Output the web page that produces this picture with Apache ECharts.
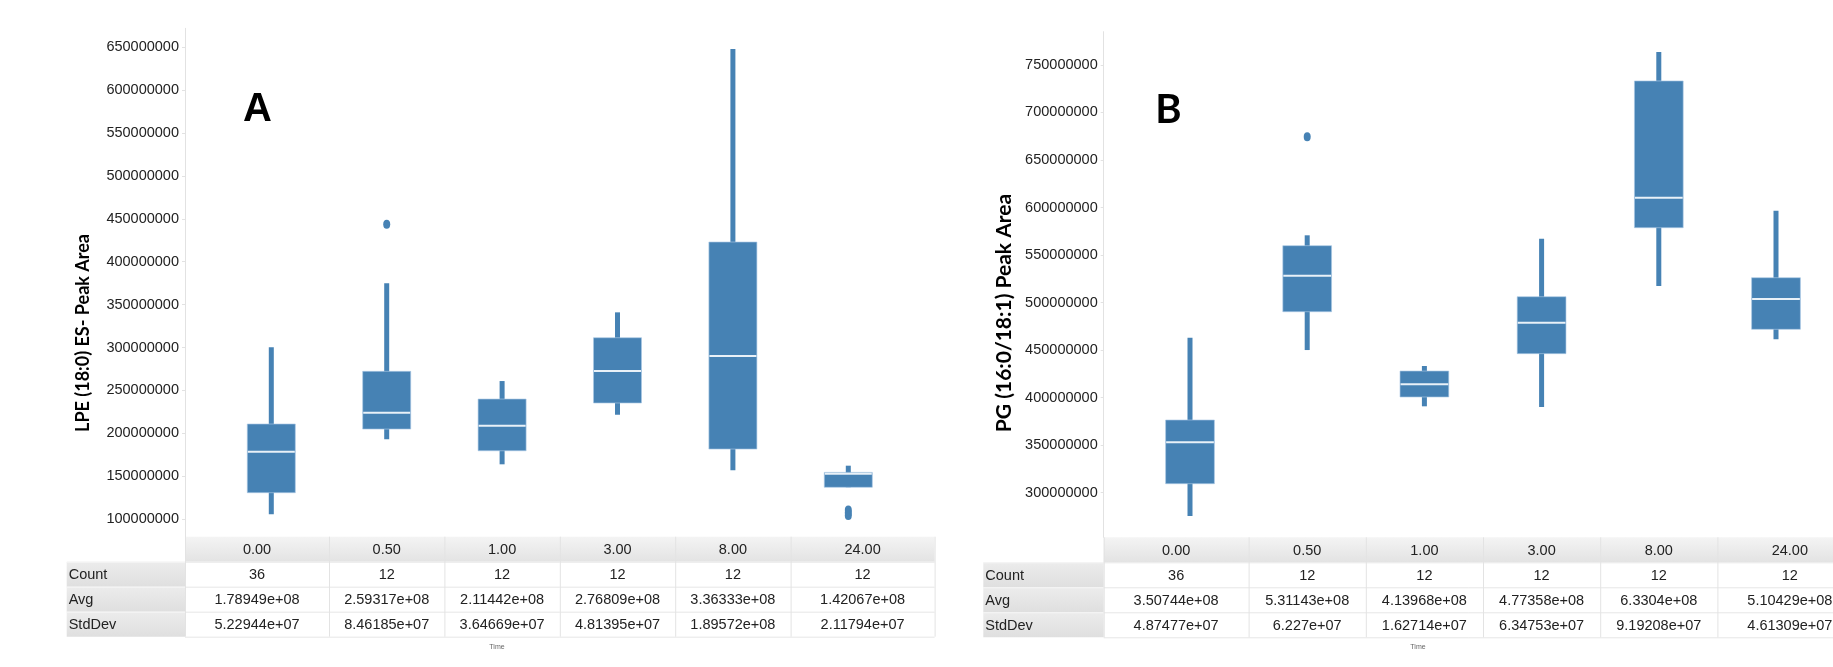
<!DOCTYPE html>
<html>
<head>
<meta charset="utf-8">
<script src="https://cdn.jsdelivr.net/npm/echarts@6/dist/echarts.min.js"></script>
<style>
  html, body { margin: 0; padding: 0; background: #ffffff; }
  #chart { width: 1833px; height: 667px; }
</style>
</head>
<body>
<div id="chart"></div>
<script>
// ---- Data -------------------------------------------------------------
const times = ['0.00', '0.50', '1.00', '3.00', '8.00', '24.00'];

// Panel A: LPE (18:0) ES- peak area, box summary per time point
const lowA  = [105.5e6, 192.9e6, 163.8e6, 221.6e6, 156.8e6, 137.0e6];
const q1A   = [130.7e6, 204.9e6, 179.6e6, 235.3e6, 181.6e6, 137.0e6];
const medA  = [178.5e6, 224.0e6, 208.8e6, 272.6e6, 290.0e6, 152.8e6];
const q3A   = [210.8e6, 272.2e6, 239.9e6, 311.4e6, 423.0e6, 154.4e6];
const highA = [300.2e6, 374.8e6, 260.9e6, 341.0e6, 648.0e6, 162.2e6];
const outlierTimeA  = ['0.50', '24.00', '24.00', '24.00'];
const outlierValueA = [443.6e6, 110.5e6, 107.2e6, 104.1e6];
const countA = [36, 12, 12, 12, 12, 12];
const avgA   = [1.78949e8, 2.59317e8, 2.11442e8, 2.76809e8, 3.36333e8, 1.42067e8];
const sdA    = [5.22944e7, 8.46185e7, 3.64669e7, 4.81395e7, 1.89572e8, 2.11794e7];
const ticksA = [100000000, 150000000, 200000000, 250000000, 300000000, 350000000,
                400000000, 450000000, 500000000, 550000000, 600000000, 650000000];

// Panel B: PG (16:0/18:1) peak area
const lowB  = [275.5e6, 450.1e6, 390.9e6, 390.2e6, 517.5e6, 461.4e6];
const q1B   = [309.5e6, 490.4e6, 400.7e6, 446.3e6, 578.8e6, 471.9e6];
const medB  = [353.0e6, 528.3e6, 414.0e6, 478.9e6, 610.4e6, 503.8e6];
const q3B   = [376.5e6, 559.9e6, 428.0e6, 506.2e6, 733.2e6, 526.2e6];
const highB = [463.1e6, 570.8e6, 433.3e6, 567.3e6, 763.7e6, 596.7e6];
const outlierTimeB  = ['0.50'];
const outlierValueB = [674.6e6];
const countB = [36, 12, 12, 12, 12, 12];
const avgB   = [3.50744e8, 5.31143e8, 4.13968e8, 4.77358e8, 6.3304e8, 5.10429e8];
const sdB    = [4.87477e7, 6.227e7, 1.62714e7, 6.34753e7, 9.19208e7, 4.61309e7];
const ticksB = [300000000, 350000000, 400000000, 450000000, 500000000, 550000000,
                600000000, 650000000, 700000000, 750000000];

const rowNames = ['Count', 'Avg', 'StdDev'];

// ---- Styling / layout ---------------------------------------------------
const BLUE = '#4682b4';
const SANS = "'Liberation Sans', Arial, sans-serif";
const TEXT = '#222222';
const FS = 14.5;

const panels = [
  {
    letter: 'A', letterFont: "bold 40px 'Liberation Sans', Arial, sans-serif", letterPos: [257.5, 110],
    title: 'LPE (18:0) ES- Peak Area', titleSize: 18, titlePos: [83, 333],
    gridLeft: 213.6, band: 115.4, top: 28.3, bottom: 536.7, axisX: 185, labelLeft: 66.7,
    min: 79.4e6, max: 672.2e6, ticks: ticksA, timePos: [497, 647],
    low: lowA, q1: q1A, med: medA, q3: q3A, high: highA,
    outT: outlierTimeA, outV: outlierValueA,
    count: countA, avg: avgA, sd: sdA
  },
  {
    letter: 'B', letterFont: "bold 40px Lato, 'Open Sans', sans-serif", letterPos: [1168.5, 110],
    title: 'PG (16:0/18:1) Peak Area', titleSize: 21, titlePos: [1004, 313],
    gridLeft: 1131.4, band: 117.2, top: 31.7, bottom: 537.3, axisX: 1103.7, labelLeft: 983.3,
    min: 253.1e6, max: 785.0e6, ticks: ticksB, timePos: [1418, 647],
    low: lowB, q1: q1B, med: medB, q3: q3B, high: highB,
    outT: outlierTimeB, outV: outlierValueB,
    count: countB, avg: avgB, sd: sdB
  }
];

// 1.78949e+08 style number formatting
function sci(v) {
  const parts = v.toExponential(5).split('e');
  const m = parts[0].replace(/0+$/, '').replace(/\.$/, '');
  const e = parts[1];
  return m + 'e' + e[0] + e.slice(1).padStart(2, '0');
}

// Box with thick whisker bar and a white median stripe
function renderBox(params, api) {
  const x = api.value(0);
  const pLow = api.coord([x, api.value(1)]);
  const pQ1 = api.coord([x, api.value(2)]);
  const pMed = api.coord([x, api.value(3)]);
  const pQ3 = api.coord([x, api.value(4)]);
  const pHigh = api.coord([x, api.value(5)]);
  const band = api.size([1, 0])[0];
  const boxW = band * 0.416;
  const wW = 5;
  const cx = pMed[0];
  return {
    type: 'group',
    children: [
      { type: 'rect', shape: { x: cx - wW / 2, y: pHigh[1], width: wW, height: pLow[1] - pHigh[1] },
        style: { fill: BLUE } },
      { type: 'rect', shape: { x: cx - boxW / 2, y: pQ3[1], width: boxW, height: Math.max(pQ1[1] - pQ3[1], 1) },
        style: { fill: BLUE, stroke: 'rgba(170,200,228,0.8)', lineWidth: 0.8 } },
      { type: 'rect', shape: { x: cx - boxW / 2 + 0.5, y: pMed[1] - 1, width: boxW - 1, height: 2 },
        style: { fill: '#e9f1f8' } }
    ]
  };
}

const grids = [], xAxes = [], yAxes = [], series = [], graphics = [];

const headGrad = () => new echarts.graphic.LinearGradient(0, 0, 0, 1, [
  { offset: 0, color: '#f4f4f4' }, { offset: 1, color: '#e3e3e3' }
]);
const rowGrad = () => new echarts.graphic.LinearGradient(0, 0, 0, 1, [
  { offset: 0, color: '#ececec' }, { offset: 1, color: '#dfdfdf' }
]);

panels.forEach((p, i) => {
  const gridW = p.band * times.length;
  grids.push({ left: p.gridLeft, top: p.top, width: gridW, height: p.bottom - p.top,
               containLabel: false, outerBoundsMode: 'none' });
  xAxes.push({ type: 'category', gridIndex: i, data: times, show: false, boundaryGap: true });
  yAxes.push({
    type: 'value', gridIndex: i, min: p.min, max: p.max,
    offset: p.gridLeft - p.axisX,
    axisLine: { show: true, lineStyle: { color: '#e2e2e2', width: 1 } },
    axisTick: { show: true, length: 3, lineStyle: { color: '#e2e2e2' }, customValues: p.ticks },
    axisLabel: { customValues: p.ticks, margin: 6, color: TEXT, fontFamily: SANS, fontSize: FS,
                 formatter: v => Math.round(v).toString() },
    splitLine: { show: false }
  });

  series.push({
    type: 'custom', xAxisIndex: i, yAxisIndex: i,
    renderItem: renderBox,
    encode: { x: 0, y: [1, 2, 3, 4, 5] },
    data: times.map((t, k) => [k, p.low[k], p.q1[k], p.med[k], p.q3[k], p.high[k]]),
    clip: false, silent: true
  });
  series.push({
    type: 'scatter', xAxisIndex: i, yAxisIndex: i,
    symbol: 'circle', symbolSize: [7, 9],
    itemStyle: { color: BLUE, opacity: 1 },
    data: p.outT.map((t, k) => [t, p.outV[k]]),
    silent: true
  });

  // Panel letter and vertical axis title
  graphics.push({ type: 'text', x: p.letterPos[0], y: p.letterPos[1],
    style: { text: p.letter, font: p.letterFont, fill: '#000', align: 'center', verticalAlign: 'middle' } });
  graphics.push({ type: 'text', x: p.titlePos[0], y: p.titlePos[1], rotation: Math.PI / 2,
    style: { text: p.title, fontFamily: "Lato, 'Open Sans', sans-serif", fontWeight: 'bold',
             fontSize: p.titleSize, fill: '#000', align: 'center', verticalAlign: 'middle' } });

  // Summary table under the plot
  const rowH = 25;
  const top = p.bottom;
  const edges = [p.axisX];
  for (let k = 1; k < times.length; k++) edges.push(p.gridLeft + k * p.band);
  edges.push(p.gridLeft + gridW + (p.gridLeft - p.axisX));
  const right = edges[edges.length - 1];

  graphics.push({ type: 'rect', shape: { x: p.axisX, y: top, width: right - p.axisX, height: rowH },
    style: { fill: headGrad() }, silent: true });
  graphics.push({ type: 'rect', shape: { x: p.axisX, y: top + rowH, width: right - p.axisX, height: rowH * 3 },
    style: { fill: '#ffffff' }, silent: true });
  rowNames.forEach((name, r) => {
    const y0 = top + rowH * (r + 1);
    graphics.push({ type: 'rect', shape: { x: p.labelLeft, y: y0, width: p.axisX - p.labelLeft, height: rowH },
      style: { fill: rowGrad() }, silent: true });
    graphics.push({ type: 'line', shape: { x1: p.labelLeft, y1: y0 + 0.5, x2: p.axisX, y2: y0 + 0.5 },
      style: { stroke: '#f6f6f6', lineWidth: 1 }, silent: true });
    graphics.push({ type: 'text', x: p.labelLeft + 2, y: y0 + rowH / 2 + 1,
      style: { text: name, fontFamily: SANS, fontSize: FS, fill: TEXT, align: 'left', verticalAlign: 'middle' } });
  });
  // cell borders
  for (let r = 1; r <= 4; r++) {
    const y = top + rowH * r + 0.5;
    graphics.push({ type: 'line', shape: { x1: p.axisX, y1: y, x2: right, y2: y },
      style: { stroke: '#e6e6e6', lineWidth: 1 }, silent: true });
  }
  edges.forEach(ex => {
    graphics.push({ type: 'line', shape: { x1: ex + 0.5, y1: top, x2: ex + 0.5, y2: top + rowH * 4 },
      style: { stroke: '#e3e3e3', lineWidth: 1 }, silent: true });
  });
  times.forEach((t, k) => {
    const cx = (edges[k] + edges[k + 1]) / 2;
    const cells = [t, String(p.count[k]), sci(p.avg[k]), sci(p.sd[k])];
    cells.forEach((txt, r) => {
      graphics.push({ type: 'text', x: cx, y: top + rowH * r + rowH / 2 + 1,
        style: { text: txt, fontFamily: SANS, fontSize: FS, fill: TEXT, align: 'center', verticalAlign: 'middle' } });
    });
  });
  graphics.push({ type: 'text', x: p.timePos[0], y: p.timePos[1],
    style: { text: 'Time', fontFamily: SANS, fontSize: 7, fill: '#666', align: 'center', verticalAlign: 'middle' } });
});

const chart = echarts.init(document.getElementById('chart'), null, { renderer: 'canvas' });
chart.setOption({
  animation: false,
  backgroundColor: '#ffffff',
  grid: grids,
  xAxis: xAxes,
  yAxis: yAxes,
  series: series,
  graphic: { elements: graphics }
});
</script>
</body>
</html>
